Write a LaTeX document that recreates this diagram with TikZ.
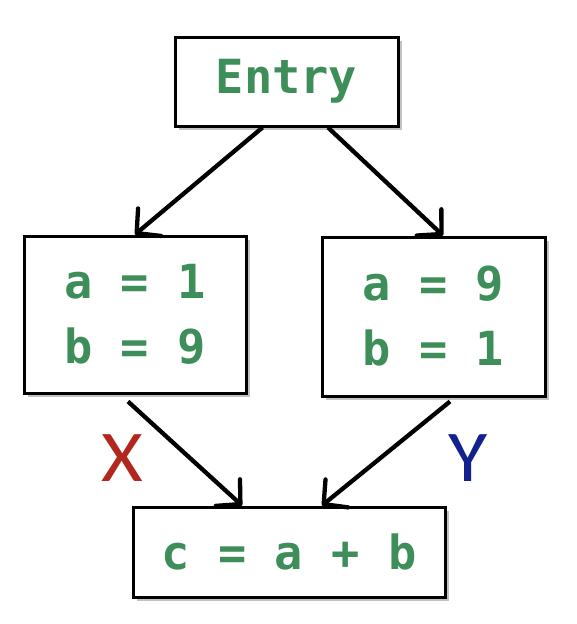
\documentclass[tikz,border=0pt]{standalone}
\usepackage{fontspec}
\setmonofont{DejaVu Sans Mono}
\newfontfamily\labelfont{Carlito}
\usetikzlibrary{arrows.meta,calc,shadows}
\definecolor{codegreen}{HTML}{3E8E5A}
\definecolor{xred}{HTML}{B3261E}
\definecolor{yblue}{HTML}{13218F}
\tikzset{
  blockbox/.style={draw=black, line width=3pt, fill=white, inner sep=0pt,
    font=\fontsize{47}{65}\selectfont\ttfamily\bfseries, text=codegreen, align=center,
    drop shadow={shadow xshift=3.5pt, shadow yshift=-3.5pt, fill=black!40, opacity=0.6}},
  flow/.style={line width=4.3pt, -{Straight Barb[length=17pt,width=36pt,line width=4.3pt,round]}},
  edgelabel/.style={font=\fontsize{73}{75}\selectfont\labelfont, xscale=1.1}
}
\begin{document}
\begin{tikzpicture}[x=1pt,y=-1pt]
\useasboundingbox (0,0) rectangle (576,624);
\node[blockbox, minimum width=223pt, minimum height=89pt] (entry) at (286.5,81.5) {\raisebox{-3pt}{Entry}};
\node[blockbox, minimum width=222pt, minimum height=157pt] (left) at (135,314.5) {a = 1\\b = 9};
\node[blockbox, minimum width=223pt, minimum height=159pt] (right) at (433.5,316.5) {a = 9\\b = 1};
\node[blockbox, minimum width=312pt, minimum height=90pt] (join) at (289,552) {c = a + b};
\draw[flow] ($(entry.south)+(-24,0)$) -- (left.north);
\draw[flow] ($(entry.south)+(41.5,0)$) -- ($(right.north)+(9.5,0)$);
\draw[flow] ($(left.south)+(-7,7)$) -- ($(join.north)+(-47,0)$);
\draw[flow] ($(right.south)+(16.5,4)$) -- ($(join.north)+(33,0)$);
\node[edgelabel, text=xred] (xlab) at (122,458) {X};
\node[edgelabel, text=yblue] (ylab) at (468,458) {Y};
\end{tikzpicture}
\end{document}
